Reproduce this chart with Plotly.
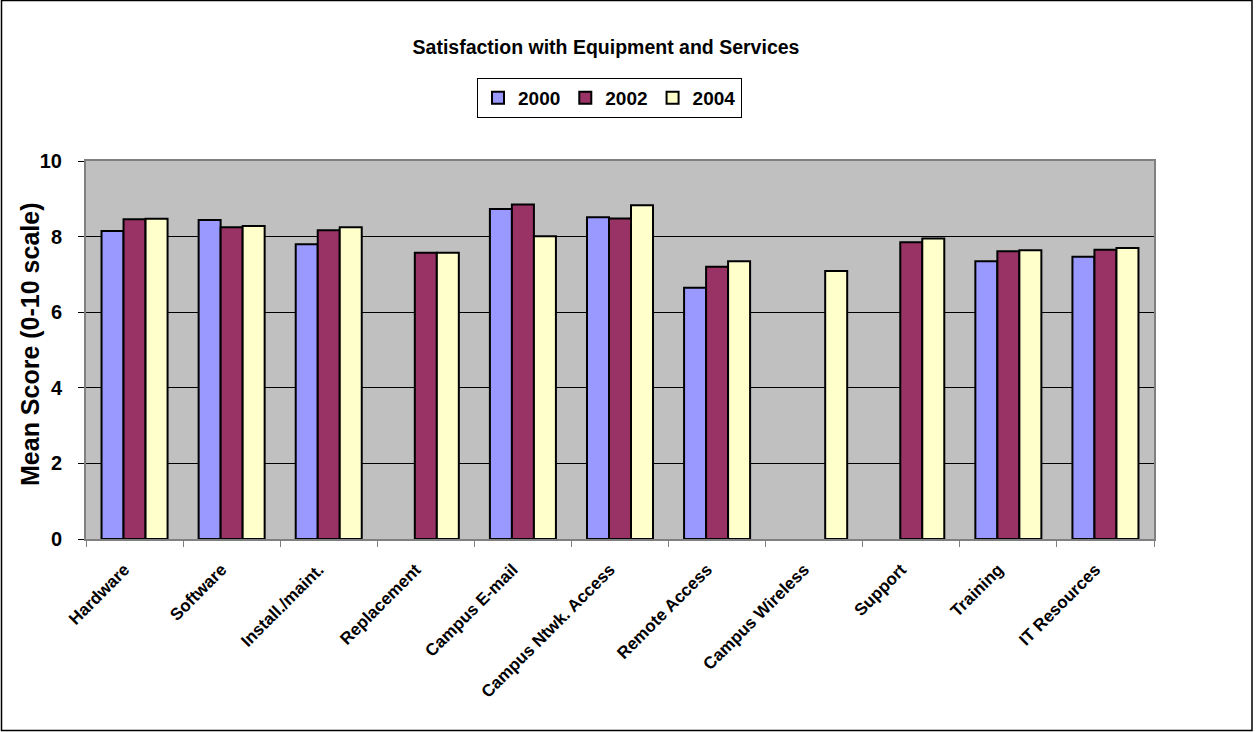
import plotly.graph_objects as go

categories = ["Hardware", "Software", "Install./maint.", "Replacement", "Campus E-mail",
              "Campus Ntwk. Access", "Remote Access", "Campus Wireless", "Support",
              "Training", "IT Resources"]
y2000 = [8.15, 8.44, 7.80, None, 8.73, 8.51, 6.65, None, None, 7.35, 7.47]
y2002 = [8.46, 8.25, 8.17, 7.57, 8.85, 8.48, 7.20, None, 7.85, 7.61, 7.65]
y2004 = [8.47, 8.28, 8.25, 7.57, 8.01, 8.83, 7.35, 7.09, 7.95, 7.64, 7.70]
series_names = ["2000", "2002", "2004"]
colors = ["#9999FF", "#993366", "#FFFFCC"]
y_title = "Mean Score (0-10 scale)"
chart_title = "Satisfaction with Equipment and Services"

FONT = "Arial, 'Liberation Sans', sans-serif"
W, H = 1257, 732
L, R, T, B = 86, 1154, 161, 539
pw, ph = R - L, B - T

def px_x(x):
    return (x - L) / pw

def px_y(y):
    return (B - y) / ph

fig = go.Figure()
for name, vals, c in zip(series_names, [y2000, y2002, y2004], colors):
    fig.add_trace(go.Bar(x=categories, y=vals, name="<b>" + name + "</b>", marker_color=c,
                         marker_line_color="black", marker_line_width=2))

fig.update_layout(
    width=W, height=H,
    margin=dict(l=L, r=W - R, t=T, b=H - B, autoexpand=False),
    paper_bgcolor="white", plot_bgcolor="#C0C0C0",
    barmode="group", bargap=0.32, bargroupgap=0,
    font=dict(family=FONT, color="black"),
    title=dict(text="<b>" + chart_title + "</b>",
               font=dict(size=19.5, family=FONT, color="black"),
               x=px_x(606), xref="paper", xanchor="center",
               y=1 - 47 / H, yref="container", yanchor="middle"),
    legend=dict(orientation="h", x=px_x(609.5), y=px_y(78), xanchor="center", yanchor="top",
                bgcolor="white", bordercolor="black", borderwidth=1,
                font=dict(size=19, family=FONT, color="black"),
                traceorder="normal", itemsizing="constant", itemwidth=30),
    showlegend=True,
)
fig.update_yaxes(range=[0, 10], dtick=2, showgrid=True, gridcolor="black", gridwidth=1,
                 showline=True, linecolor="#808080", linewidth=2, mirror=True,
                 ticks="outside", ticklen=6, tickcolor="black",
                 tickfont=dict(size=20, family=FONT, color="black"),
                 ticklabelstandoff=12,
                 tickformat="d", tickprefix="<b>", ticksuffix="</b>",
                 zeroline=False)
fig.update_xaxes(showline=True, linecolor="#808080", linewidth=2, mirror=True,
                 ticks="outside", ticklen=6, tickcolor="#808080", tickson="boundaries",
                 tickangle=-45, tickfont=dict(size=17, family=FONT, color="black"),
                 ticklabelstandoff=12, ticklabelshift=-10,
                 tickprefix="<b>", ticksuffix="</b>")

fig.add_annotation(text="<b>" + y_title + "</b>", textangle=-90,
                   xref="paper", yref="paper", x=px_x(30), y=px_y(345),
                   xanchor="center", yanchor="middle", showarrow=False,
                   font=dict(size=25, family=FONT, color="black"))

fig.add_shape(type="rect", xref="paper", yref="paper",
              x0=px_x(1.5), x1=px_x(1252), y0=px_y(730.5), y1=px_y(0.5),
              line=dict(color="black", width=1.5), fillcolor="rgba(0,0,0,0)", layer="below")

fig.write_html("out.html")
